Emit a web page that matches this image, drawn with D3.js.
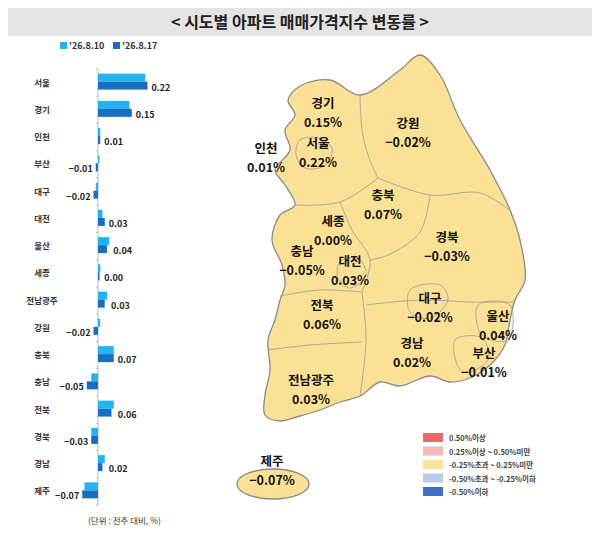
<!DOCTYPE html>
<html><head><meta charset="utf-8">
<script src="https://cdn.jsdelivr.net/npm/d3@7"></script>
<style>body{margin:0;background:#fff}svg{font-family:"Noto Sans CJK KR","Noto Sans",sans-serif}</style>
</head><body><svg id="c" width="600" height="559"></svg>
<script>
var regions = ["서울","경기","인천","부산","대구","대전","울산","세종","전남광주","강원","충북","충남","전북","경북","경남","제주"];
var prevWeek = [0.21,0.14,0.01,0.00,-0.01,0.02,0.05,0.01,0.04,0.01,0.07,-0.03,0.07,-0.03,0.03,-0.06];
var thisWeek = [0.22,0.15,0.01,-0.01,-0.02,0.03,0.04,0.00,0.03,-0.02,0.07,-0.05,0.06,-0.03,0.02,-0.07];
var seriesNames = ["'26.8.10","'26.8.17"];
var legendItems = ["0.50%이상","0.25%이상 ~ 0.50%미만","-0.25%초과 ~ 0.25%미만","-0.50%초과 ~ -0.25%이하","-0.50%이하"];
var legendColors = ["#e8696e","#f4b8be","#fbe196","#b8cbe9","#3f6fc7"];
var mapLabels = [
  ["경기",323,108],["서울",318,148],["인천",266,153],["강원",408,128],["충북",383,200],
  ["세종",333,226],["충남",302,256],["대전",350,266],["경북",447,242],["대구",430,303],
  ["울산",498,321],["전북",322,310],["경남",412,348],["부산",484,358],["전남광주",311,385],["제주",272,466]
];

var svg = d3.select("#c");
svg.append("rect").attr("x",8).attr("y",8).attr("width",584).attr("height",28).attr("fill","#e4e4e4");
svg.append("text").attr("x",300).attr("y",28).attr("text-anchor","middle").attr("font-size",16)
  .attr("font-weight","bold").attr("fill","#222").text("< 시도별 아파트 매매가격지수 변동률 >");

// bar chart
var x = d3.scaleLinear().domain([0,0.22]).range([98,147.5]);
var y = d3.scaleBand().domain(regions).range([69,505]);
var cols = ["#23b4ef","#1a6ec0"];
seriesNames.forEach(function(s,i){
  var lx = 60 + i*53;
  svg.append("rect").attr("x",lx).attr("y",42).attr("width",7).attr("height",7).attr("fill",cols[i]);
  svg.append("text").attr("x",lx+9).attr("y",49).attr("font-size",9).attr("font-weight","bold").attr("fill","#333").text(s);
});
svg.append("line").attr("x1",98).attr("x2",98).attr("y1",69).attr("y2",505).attr("stroke","#bbb");
svg.append("g").selectAll("line").data(regions.concat(["end"])).join("line")
  .attr("x1",96).attr("x2",98).attr("stroke","#bbb")
  .attr("y1",function(d,i){return 69+i*y.step();}).attr("y2",function(d,i){return 69+i*y.step();});
var g = svg.append("g").selectAll("g").data(regions).join("g");
g.append("text").attr("x",42).attr("y",function(d){return y(d)+y.bandwidth()/2+3;})
  .attr("text-anchor","middle").attr("font-size",8.5).attr("font-weight","bold").attr("fill","#333").text(function(d){return d;});
[prevWeek,thisWeek].forEach(function(arr,k){
  g.append("rect").attr("fill",cols[k])
    .attr("x",function(d,i){return Math.min(x(0),x(arr[i]));})
    .attr("width",function(d,i){return Math.max(1.5,Math.abs(x(arr[i])-x(0)));})
    .attr("y",function(d){return y(d)+y.bandwidth()/2-9+k*8;}).attr("height",8);
});
g.append("text").attr("font-size",9).attr("font-weight","bold").attr("fill","#222")
  .attr("y",function(d){return y(d)+y.bandwidth()/2+8;})
  .attr("x",function(d,i){var v=thisWeek[i];return v<0?x(Math.min(v,prevWeek[i]))-3:x(Math.max(v,prevWeek[i],0.01))+4;})
  .attr("text-anchor",function(d,i){return thisWeek[i]<0?"end":"start";})
  .text(function(d,i){return thisWeek[i].toFixed(2).replace("-","−");});
svg.append("text").attr("x",88).attr("y",524).attr("font-size",8.5).attr("fill","#333").text("(단위 : 전주 대비, %)");

// map (rough outline)
var outline = [[288,100],[300,86],[330,80],[360,95],[400,70],[420,55],[440,75],[460,120],[490,170],[510,210],[520,240],[525,280],[515,300],[510,320],[505,345],[490,365],[470,378],[450,382],[430,376],[400,386],[380,382],[360,396],[340,402],[320,410],[300,416],[280,421],[265,415],[265,395],[270,370],[268,340],[275,320],[280,300],[285,285],[282,265],[272,240],[280,215],[295,205],[285,185],[275,170],[290,150],[285,130],[295,115]];
var line = d3.line().curve(d3.curveCatmullRomClosed);
svg.append("path").attr("d",line(outline)).attr("fill","#fbe196").attr("stroke","#8a8a8a").attr("stroke-width",1.3);
var borders = [
  [[360,95],[362,130],[368,155],[378,178]],
  [[378,178],[430,195],[480,193],[512,212]],
  [[295,205],[340,202],[378,178]],
  [[340,202],[352,230],[370,260],[362,292]],
  [[430,195],[420,232],[388,255],[370,260]],
  [[280,296],[320,290],[362,292]],
  [[268,350],[310,345],[362,342]],
  [[362,292],[366,340],[360,396]],
  [[366,305],[420,300],[470,302],[514,302]]
];
var open = d3.line().curve(d3.curveCatmullRom);
svg.append("g").selectAll("path").data(borders).join("path").attr("d",open)
  .attr("fill","none").attr("stroke","#9a9a9a").attr("stroke-width",0.8);
var cities = [
  [[300,140],[318,138],[332,148],[326,165],[305,168],[296,155]],
  [[340,262],[358,258],[366,275],[350,288],[338,278]],
  [[410,290],[440,285],[448,300],[430,318],[410,312]],
  [[478,305],[510,305],[508,340],[482,335]],
  [[455,340],[482,338],[488,360],[462,372]]
];
svg.append("g").selectAll("path").data(cities).join("path").attr("d",line)
  .attr("fill","none").attr("stroke","#9a9a9a").attr("stroke-width",0.8);
svg.append("ellipse").attr("cx",273).attr("cy",484).attr("rx",36).attr("ry",15)
  .attr("fill","#fbe196").attr("stroke","#8a8a8a").attr("stroke-width",1.3);

var ml = svg.append("g");
ml.selectAll("text.n").data(mapLabels).join("text").attr("class","n")
  .attr("x",function(d){return d[1];}).attr("y",function(d){return d[2];})
  .attr("text-anchor","middle").attr("font-size",12.5).attr("font-weight","bold").attr("fill","#111")
  .text(function(d){return d[0];});
ml.selectAll("text.v").data(mapLabels).join("text").attr("class","v")
  .attr("x",function(d){return d[1];}).attr("y",function(d){return d[2]+19;})
  .attr("text-anchor","middle").attr("font-size",12.5).attr("font-weight","bold").attr("fill","#111")
  .text(function(d){return thisWeek[regions.indexOf(d[0])].toFixed(2).replace("-","−")+"%";});

// legend
var lg = svg.append("g").selectAll("g").data(legendItems).join("g")
  .attr("transform",function(d,i){return "translate(423,"+(433+i*13.5)+")";});
lg.append("rect").attr("width",20).attr("height",9).attr("fill",function(d,i){return legendColors[i];});
lg.append("text").attr("x",26).attr("y",8).attr("font-size",7.5).attr("font-weight","bold").attr("fill","#444").text(function(d){return d;});
</script></body></html>
